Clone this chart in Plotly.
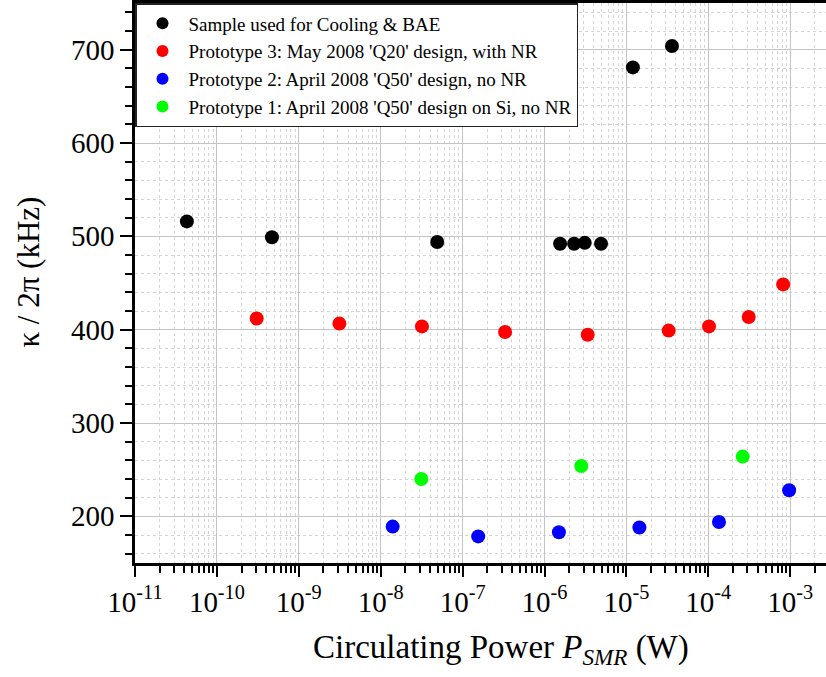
import plotly.graph_objects as go

# Data
black_x = [4.3e-11, 4.7e-10, 4.9e-8, 1.55e-6, 2.3e-6, 3.1e-6, 4.9e-6, 1.2e-5, 3.6e-5]
black_y = [516, 499, 494, 492, 492, 493, 492, 681, 704]

red_x = [3.06e-10, 3.13e-9, 3.19e-8, 3.3e-7, 3.37e-6, 3.28e-5, 1.02e-4, 3.11e-4, 8.2e-4]
red_y = [412, 406.5, 403.5, 397.5, 394.5, 399, 403.5, 413.5, 448.5]

blue_x = [1.4e-8, 1.55e-7, 1.5e-6, 1.44e-5, 1.35e-4, 9.7e-4]
blue_y = [189, 178.5, 183, 188, 194, 228]

green_x = [3.13e-8, 2.81e-6, 2.63e-4]
green_y = [240, 254, 264]

names = [
    "Sample used for Cooling & BAE",
    "Prototype 3: May 2008 'Q20' design, with NR",
    "Prototype 2: April 2008 'Q50' design, no NR",
    "Prototype 1: April 2008 'Q50' design on Si, no NR",
]
colors = ["#000000", "#ff0000", "#0000ff", "#00ff00"]

x_tickvals = [10.0 ** e for e in range(-11, -2)]
x_ticktext = ["10<sup>%d</sup>" % e for e in range(-11, -2)]
y_tickvals = [200, 300, 400, 500, 600, 700]

x_title = "Circulating Power <i>P</i><sub><i>SMR</i></sub> (W)"
y_title = "κ / 2π (kHz)"

FONT = "Liberation Serif"

fig = go.Figure()
for xs, ys, nm, c in zip([black_x, red_x, blue_x, green_x],
                         [black_y, red_y, blue_y, green_y], names, colors):
    fig.add_trace(go.Scatter(x=xs, y=ys, mode="markers", name=nm,
                             marker=dict(color=c, size=14, line=dict(width=0))))

fig.update_layout(
    width=826, height=677,
    margin=dict(l=135, r=0, t=3, b=114, autoexpand=False),
    plot_bgcolor="white", paper_bgcolor="white",
    font=dict(family=FONT, color="black"),
    showlegend=True,
    legend=dict(x=0, y=1, xanchor="left", yanchor="top",
                bgcolor="white", bordercolor="#222222", borderwidth=1.5,
                font=dict(family=FONT, size=19, color="black"),
                tracegroupgap=0, itemsizing="constant", itemwidth=42),
    annotations=[
        dict(text=x_title, xref="paper", yref="paper", x=0.530, y=-0.155,
             xanchor="center", yanchor="middle", showarrow=False,
             font=dict(family=FONT, size=33, color="black")),
        dict(text=y_title, xref="paper", yref="paper", x=-0.1534, y=0.5187,
             xanchor="center", yanchor="middle", showarrow=False, textangle=-90,
             font=dict(family=FONT, size=31, color="black")),
    ],
)

fig.update_xaxes(
    type="log", range=[-11, -2.563], automargin=False,
    tickmode="array", tickvals=x_tickvals, ticktext=x_ticktext,
    tickfont=dict(family=FONT, size=29, color="black"),
    ticks="outside", ticklen=11, tickwidth=2, tickcolor="black",
    showline=True, linecolor="black", linewidth=2.5, mirror=True,
    showgrid=True, gridcolor="#c4c4c4", gridwidth=1,
    minor=dict(dtick="D1", ticks="outside", ticklen=7, tickwidth=1.5, tickcolor="black",
               showgrid=True, gridcolor="#d4d4d4", griddash="dot", gridwidth=1),
    zeroline=False,
)

fig.update_yaxes(
    range=[150, 750], automargin=False,
    tickmode="array", tickvals=y_tickvals,
    tickfont=dict(family=FONT, size=29, color="black"),
    ticks="outside", ticklen=12, tickwidth=2, tickcolor="black",
    showline=True, linecolor="black", linewidth=2.5, mirror=False,
    showgrid=True, gridcolor="#c4c4c4", gridwidth=1,
    minor=dict(dtick=20, tick0=0, ticks="outside", ticklen=7, tickwidth=1.5, tickcolor="black",
               showgrid=True, gridcolor="#d4d4d4", griddash="dot", gridwidth=1),
    zeroline=False,
)

fig.write_html("out.html", config={"displayModeBar": False},
               post_script="document.body.style.margin='0px';")
